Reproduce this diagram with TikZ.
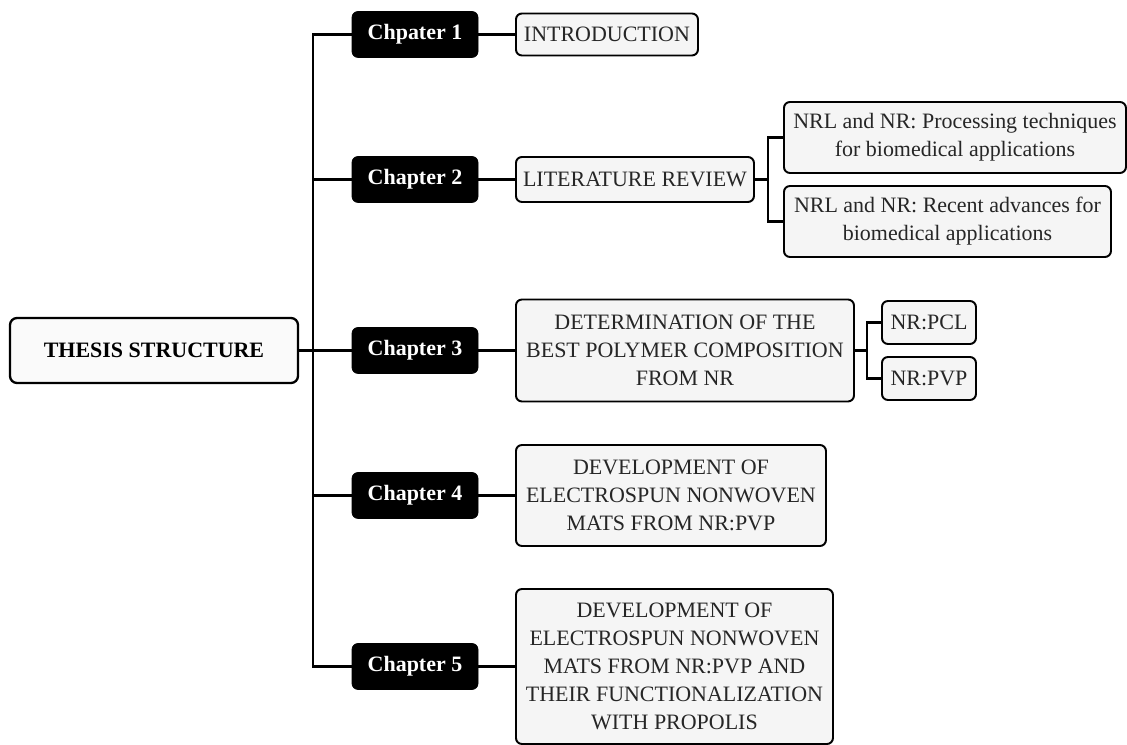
\documentclass[tikz,border=0pt]{standalone}
\usepackage{fontspec}
\setmainfont{Liberation Serif}
\usepackage{tikz}
\usetikzlibrary{positioning,calc}

\begin{document}
\begin{tikzpicture}[
  every node/.style={font=\fontsize{12.5}{16}\selectfont},
  chapbox/.style={draw=black,fill=black,text=white,font=\fontsize{12.5}{16}\selectfont\bfseries,rounded corners=0.12cm,minimum width=2.52cm,minimum height=0.92cm,inner sep=2pt},
  topicbox/.style={draw=black,line width=1.1pt,fill=gray!8,text=black!85,rounded corners=0.12cm,align=center,anchor=west,inner sep=2pt},
  link/.style={draw=black,line width=1.5pt}
]
\useasboundingbox (0,0) rectangle (22.54,14.9);
% root
\node[draw=black,line width=1.3pt,fill=gray!4,rounded corners=0.14cm,minimum width=5.76cm,minimum height=1.30cm,font=\fontsize{12.5}{16}\selectfont\bfseries] (thesis) at (3.08,7.89) {THESIS STRUCTURE};
% chapters
\node[chapbox] (ch1) at (8.30,14.21) {Chpater 1};
\node[chapbox] (ch2) at (8.30,11.31) {Chapter 2};
\node[chapbox] (ch3) at (8.30,7.89) {Chapter 3};
\node[chapbox] (ch4) at (8.30,4.99) {Chapter 4};
\node[chapbox] (ch5) at (8.30,1.57) {Chapter 5};
% contents
\node[topicbox,minimum width=3.64cm,minimum height=0.84cm] (intro) at (10.30,14.21) {INTRODUCTION};
\node[topicbox,minimum width=4.76cm,minimum height=0.90cm] (lit) at (10.30,11.31) {LITERATURE REVIEW};
\node[topicbox,minimum width=6.76cm,minimum height=2.04cm] (best) at (10.30,7.89) {DETERMINATION OF THE\\BEST POLYMER COMPOSITION\\FROM NR};
\node[topicbox,minimum width=6.20cm,minimum height=2.02cm] (mats) at (10.30,4.99) {DEVELOPMENT OF\\ELECTROSPUN NONWOVEN\\MATS FROM NR:PVP};
\node[topicbox,minimum width=6.34cm,minimum height=3.10cm] (prop) at (10.30,1.57) {DEVELOPMENT OF\\ELECTROSPUN NONWOVEN\\MATS FROM NR:PVP AND\\THEIR FUNCTIONALIZATION\\WITH PROPOLIS};
% sub topics
\node[topicbox,minimum width=6.84cm,minimum height=1.42cm] (proc) at (15.66,12.15) {NRL and NR: Processing techniques\\for biomedical applications};
\node[topicbox,minimum width=6.54cm,minimum height=1.42cm] (adv) at (15.66,10.47) {NRL and NR: Recent advances for\\biomedical applications};
\node[topicbox,minimum width=1.88cm,minimum height=0.86cm] (pcl) at (17.62,8.45) {NR:PCL};
\node[topicbox,minimum width=1.88cm,minimum height=0.86cm] (pvp) at (17.62,7.33) {NR:PVP};
% forks
\coordinate (trunk) at (6.26,1.57);
\coordinate (litfork) at (15.36,11.31);
\coordinate (bestfork) at (17.34,7.89);
% connectors
\draw[link] (ch1.west) -| (trunk) -- (ch5.west);
\draw[link] (thesis.east) -- (thesis.east -| trunk);
\draw[link] (ch2.west) -- (ch2.west -| trunk);
\draw[link] (ch3.west) -- (ch3.west -| trunk);
\draw[link] (ch4.west) -- (ch4.west -| trunk);
\draw[link] (ch1.east) -- (intro.west);
\draw[link] (ch2.east) -- (lit.west);
\draw[link] (ch3.east) -- (best.west);
\draw[link] (ch4.east) -- (mats.west);
\draw[link] (ch5.east) -- (prop.west);
\draw[link] (lit.east) -- (litfork);
\draw[link] (proc.west) -| (litfork) |- (adv.west);
\draw[link] (best.east) -- (bestfork);
\draw[link] (pcl.west) -| (bestfork) |- (pvp.west);
\end{tikzpicture}
\end{document}
